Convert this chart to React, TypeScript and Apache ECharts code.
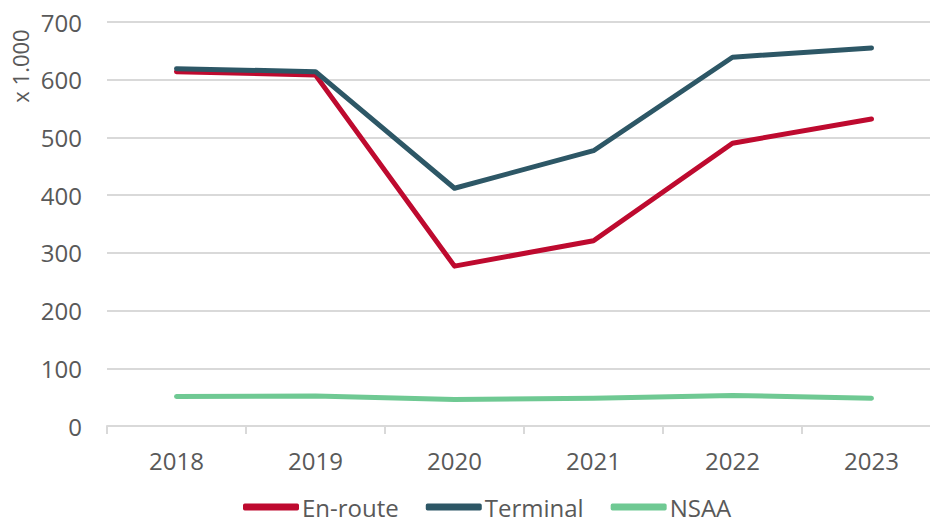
import React, { useEffect, useRef } from "react";
import * as echarts from "echarts";

const years = ["2018", "2019", "2020", "2021", "2022", "2023"];
const enRoute = [614, 608, 277, 321, 490, 532];
const terminal = [619, 614, 412, 477, 639, 655];
const nsaa = [51, 52, 46, 48, 53, 48];
const yTicks = { min: 0, max: 700, interval: 100 };
const unitLabel = "x 1.000";

export default function App() {
  const ref = useRef<HTMLDivElement>(null);
  useEffect(() => {
    const chart = echarts.init(ref.current!, undefined, { renderer: "svg" });
    const font = "'Open Sans', 'Noto Sans', sans-serif";
    const gray = "#595959";
    const line = (name: string, data: number[], color: string) => ({
      name,
      type: "line",
      data,
      symbol: "none",
      lineStyle: { color, width: 5, cap: "round", join: "round" },
      itemStyle: { color },
    });
    chart.setOption({
      animation: false,
      textStyle: { fontFamily: font },
      grid: { left: 107, right: -11, top: 22, bottom: 98, containLabel: false, outerBoundsMode: "none" },
      xAxis: {
        type: "category",
        data: years,
        boundaryGap: true,
        axisLine: { lineStyle: { color: "#d9d9d9", width: 2 } },
        axisTick: { show: true, length: 8, lineStyle: { color: "#d9d9d9", width: 2 } },
        axisLabel: { color: gray, fontSize: 24, margin: 22, fontFamily: font },
      },
      yAxis: {
        type: "value",
        min: yTicks.min,
        max: yTicks.max,
        interval: yTicks.interval,
        axisLine: { show: false },
        axisTick: { show: false },
        splitLine: { lineStyle: { color: "#d9d9d9", width: 2 } },
        axisLabel: { color: gray, fontSize: 24, margin: 25, fontFamily: font },
      },
      graphic: [
        {
          type: "text",
          x: 20,
          y: 66,
          rotation: Math.PI / 2,
          style: {
            text: unitLabel,
            fill: gray,
            font: `22px ${font}`,
            textAlign: "center",
            textVerticalAlign: "middle",
          },
        },
      ],
      legend: {
        bottom: 5,
        left: 243,
        padding: 0,
        icon: "roundRect",
        itemWidth: 56,
        itemHeight: 7,
        itemGap: 27,
        textStyle: { color: gray, fontSize: 24, lineHeight: 24, fontFamily: font, padding: [0, 0, 0, -2] },
        data: ["En-route", "Terminal", "NSAA"],
      },
      series: [
        line("En-route", enRoute, "#BE0A2F"),
        line("Terminal", terminal, "#2D5766"),
        line("NSAA", nsaa, "#6FC993"),
      ],
    });
    return () => chart.dispose();
  }, []);
  return <div ref={ref} style={{ width: 930, height: 524, position: "absolute", left: 0, top: 0 }} />;
}
